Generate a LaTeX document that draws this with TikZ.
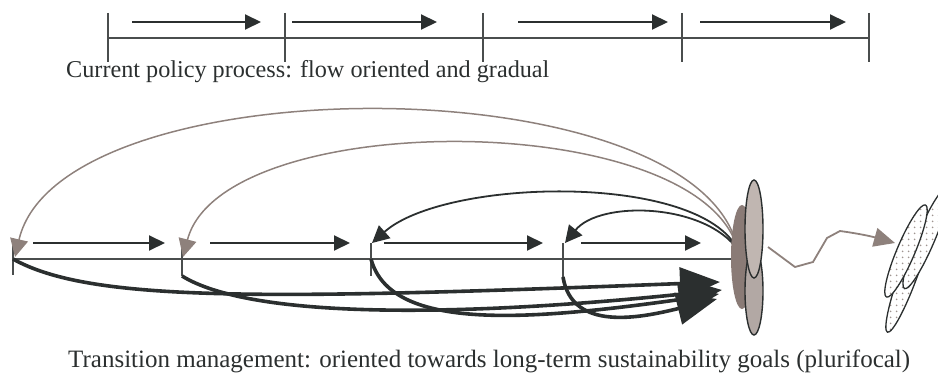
\documentclass[tikz,border=0pt]{standalone}
\usepackage{fontspec}
\setmainfont{Liberation Serif}
\usetikzlibrary{arrows.meta,patterns.meta}
\definecolor{ink}{HTML}{2B2F2F}
\definecolor{rule}{HTML}{4A4D4D}
\definecolor{taupe}{HTML}{8E817C}
\definecolor{darkfoc}{HTML}{8A7B76}
\definecolor{lightfoc}{HTML}{C0B6B1}
\definecolor{midfoc}{HTML}{B2A8A4}
\tikzdeclarepattern{name=sparsedots, type=uncolored,
  bounding box={(0,0) and (6pt,6pt)}, tile size={(6pt,6pt)},
  code={\fill (3pt,3pt) circle (1.1pt);}}
\tikzset{
  timeline/.style={draw=rule, line width=2pt},
  tickmark/.style={draw=rule, line width=1.6pt},
  flow/.style={draw=rule, line width=2pt, -{Triangle[length=16pt,width=15pt]}, ink},
  loopback/.style={draw=taupe, line width=1.5pt, -{Triangle[length=18pt,width=18pt]}},
  darkloop/.style={draw=ink, line width=1.8pt, -{Triangle[length=17pt,width=17pt]}},
  leap/.style={draw=ink, line width=3.6pt, -{Triangle[length=40pt,width=32pt]}},
  focus/.style={draw=ink, line width=1.4pt},
  future/.style={draw=ink, line width=1.3pt, preaction={fill=white}, pattern=sparsedots, pattern color=taupe!85},
  caption/.style={anchor=base west, inner sep=0pt, text=ink}
}
\begin{document}
\begin{tikzpicture}[x=1pt,y=-1pt]
\useasboundingbox (0,0) rectangle (938,374);

% ---------- current policy process ----------
\foreach \n/\x in {1/108,2/285,3/483,4/682,5/869}{
  \coordinate (t\n) at (\x,13);
  \coordinate (b\n) at (\x,62);
}
\coordinate (lineL) at (108,38);
\coordinate (lineR) at (869,38);
\draw[timeline] (lineL) -- (lineR);
\foreach \n in {1,...,5} \draw[tickmark] (t\n) -- (b\n);
\foreach \n/\a/\b in {1/132/261,2/292/437,3/518/668,4/700/846}{
  \coordinate (fs\n) at (\a,22);
  \coordinate (fe\n) at (\b,22);
  \draw[flow] (fs\n) -- (fe\n);
}
\node[caption, font=\fontsize{24.2}{28}\selectfont] (cur) at (66,78)
  {Current policy process: flow oriented and gradual};

% ---------- transition management ----------
\coordinate (baseL) at (13,259);
\coordinate (baseR) at (742,259);
\draw[timeline] (baseL) -- (baseR);
\foreach \n/\x/\tb in {1/13/275,2/182/276,3/371/276,4/563/277}{
  \coordinate (s\n) at (\x,243);
  \coordinate (u\n) at (\x,\tb);
  \draw[tickmark] (s\n) -- (u\n);
}
\foreach \n/\a/\b in {1/33/165,2/210/350,3/384/543,4/581/701}{
  \coordinate (gs\n) at (\a,243);
  \coordinate (ge\n) at (\b,243);
  \draw[flow] (gs\n) -- (ge\n);
}

% feedback from the long-term goals back to each round
\coordinate (hub) at (738,250);
\coordinate (back1) at (15,257);
\coordinate (back2) at (183,257);
\coordinate (back3) at (372,243);
\coordinate (back4) at (565,243);
\draw[loopback] (hub) .. controls (700,63) and (60,63) .. (back1);
\draw[loopback] (hub) .. controls (700,107) and (222,107) .. (back2);
\draw[darkloop] (hub) .. controls (700,172) and (445,178) .. (back3);
\draw[darkloop] (hub) .. controls (705,203) and (600,200) .. (back4);

% leaps forward from each round towards the goals
\coordinate (aim1) at (720,282);
\coordinate (aim2) at (722,290);
\coordinate (aim3) at (719,294);
\coordinate (aim4) at (717,299);
\draw[leap] (baseL) .. controls (90,302) and (260,300) .. (aim1);
\draw[leap] (u2) .. controls (250,318) and (450,318) .. (aim2);
\draw[leap] (u3|-baseL) .. controls (390,330) and (520,322) .. (aim3);
\draw[leap] (u4) .. controls (572,332) and (640,318) .. (aim4);

% goal cluster
\draw[focus, fill=darkfoc, draw=none] (742,257) ellipse [x radius=11, y radius=52];
\draw[focus, fill=midfoc] (754,291) ellipse [x radius=9, y radius=44];
\draw[focus, fill=lightfoc] (754,229) ellipse [x radius=9, y radius=49];

% wandering path to the future
\coordinate (w0) at (768,247);
\coordinate (w5) at (895,243);
\draw[draw=taupe, line width=1.8pt, -{Triangle[length=21pt,width=19pt]}]
  (w0) -- (795,267) -- (813,262) -- (827,238) -- (840,231)
  .. controls (855,233) and (870,236) .. (w5);

% future visions
\draw[future] (909,273) [rotate around={70:(909,273)}] ellipse [x radius=63, y radius=9];
\draw[future] (926,238) [rotate around={67:(926,238)}] ellipse [x radius=55, y radius=9];
\draw[future] (906,251) [rotate around={67:(906,251)}] ellipse [x radius=50, y radius=9];

\node[caption, font=\fontsize{25}{29}\selectfont] (tm) at (68,367)
  {Transition management: oriented towards long-term sustainability goals (plurifocal)};
\end{tikzpicture}
\end{document}
